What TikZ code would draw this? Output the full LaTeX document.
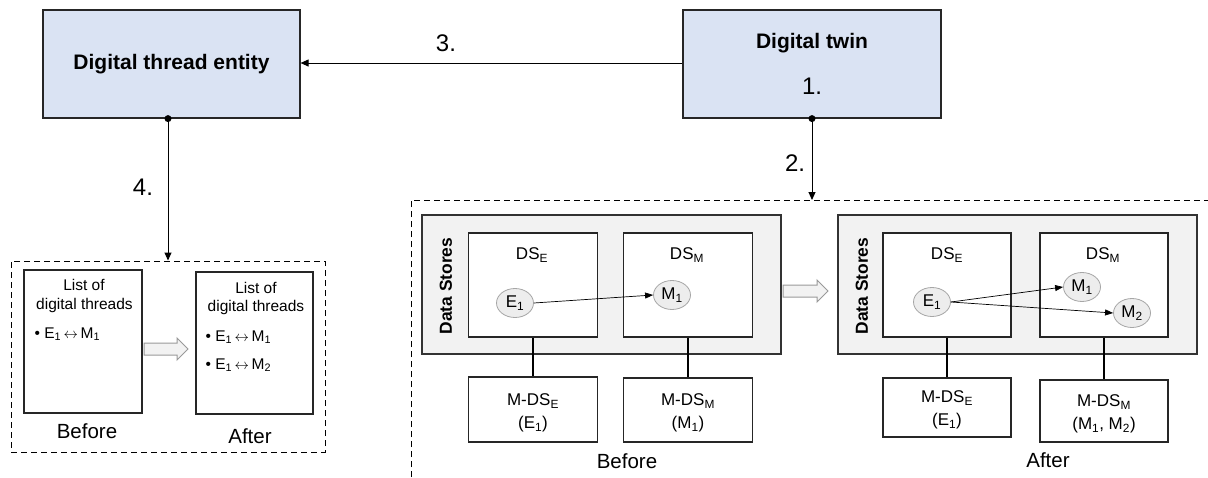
\documentclass[tikz,border=0pt]{standalone}
\usepackage{fontspec}
\setmainfont{Liberation Sans}
\usetikzlibrary{arrows.meta,shapes.geometric}
\definecolor{bluefill}{HTML}{DAE3F3}
\definecolor{grayfill}{HTML}{F2F2F2}
\definecolor{ellfill}{HTML}{EDEDED}
\definecolor{ellline}{HTML}{A6A6A6}
\begin{document}
\begin{tikzpicture}[x=1pt,y=-1pt,
  bluebox/.style={draw=black!85,line width=1.2pt,fill=bluefill,inner sep=0pt},
  plainbox/.style={draw=black!85,line width=1.2pt,fill=white,inner sep=0pt},
  graybox/.style={draw=black!80,line width=1.2pt,fill=grayfill,inner sep=0pt},
  dashbox/.style={draw=black,line width=1pt,dash pattern=on 6pt off 4pt,inner sep=0pt},
  ell/.style={ellipse,draw=ellline,fill=ellfill,line width=0.8pt,minimum width=37pt,minimum height=29pt,inner sep=0pt,font=\fontsize{17}{19}\selectfont},
  hollow/.style={draw=black!40,fill=grayfill,line width=1pt,line join=miter},
  conn/.style={line width=1pt,-{Triangle[length=8pt,width=7pt]}},
  thin/.style={line width=0.7pt,-{Triangle[length=8pt,width=6pt]}},
  link/.style={line width=1.6pt},
  dot/.style={circle,fill=black,inner sep=0pt,minimum size=7pt},
  titlef/.style={font=\fontsize{21}{24}\selectfont\bfseries},
  numf/.style={font=\fontsize{24}{28}\selectfont},
  listf/.style={font=\fontsize{15.5}{18}\selectfont},
  capf/.style={font=\fontsize{20.5}{24}\selectfont},
  dsf/.style={font=\fontsize{17}{20}\selectfont},
  mdsf/.style={align=center,font=\fontsize{17}{23}\selectfont},
  storef/.style={rotate=90,font=\fontsize{17.4}{20}\selectfont\bfseries}
]
\useasboundingbox (0,0) rectangle (1208,477);
\newcommand{\lra}{\,$\leftrightarrow$\,}

% top boxes
\node[bluebox,minimum width=257pt,minimum height=108pt] (dte) at (171.5,64) {};
\node[titlef] (dtetxt) at (171.5,64) {Digital thread entity};
\node[bluebox,minimum width=258pt,minimum height=108pt] (dt) at (812,64) {};
\node[titlef] (dttxt) at (812,43) {Digital twin};
\node[numf] (n1) at (812,86) {1.};

% arrow 3
\draw[conn] (dt.west |- 0,63) coordinate (a3s) -- (dte.east |- a3s);
\node[numf] (n3) at (446,43) {3.};

% left dashed area
\node[dashbox,minimum width=314pt,minimum height=191pt] (lbox) at (168,356.5) {};
\node[dot] (d4) at (lbox.north |- dte.south) {};
\draw[conn] (d4.center) -- (lbox.north);
\node[numf] (n4) at (143,187) {4.};

\node[plainbox,minimum width=118pt,minimum height=143pt] (lb) at (83,341.5) {};
\node[listf] (lb1) at (84,285) {List of};
\node[listf] (lb2) at (84.5,305) {digital threads};
\node[listf,anchor=west] (lb3) at (31,334) {• E\textsubscript{1}\lra M\textsubscript{1}};
\node[capf] (lbcap) at (87,431) {Before};

\draw[hollow] (144,343) -- (177,343) -- (177,338) -- (188,349) -- (177,360) -- (177,355) -- (144,355) -- cycle;

\node[plainbox,minimum width=117pt,minimum height=142pt] (la) at (254.5,343) {};
\node[listf] (la1) at (256,288) {List of};
\node[listf] (la2) at (256,307) {digital threads};
\node[listf,anchor=west] (la3) at (202,337) {• E\textsubscript{1}\lra M\textsubscript{1}};
\node[listf,anchor=west] (la4) at (202,365) {• E\textsubscript{1}\lra M\textsubscript{2}};
\node[capf] (lacap) at (250,436) {After};

% right dashed area (open to the edges)
\coordinate (rtl) at (411,200);
\draw[dashbox] (411,477) -- (rtl) -- (1208,200);
\node[dot] (d2) at (dt.south) {};
\coordinate (rtop) at (812,200);
\draw[conn] (d2.center) -- (rtop);
\node[numf] (n2) at (795,163) {2.};

% Before group
\node[graybox,minimum width=359pt,minimum height=139pt] (gb) at (601.5,284.5) {};
\node[storef] (sb) at (446,286) {Data Stores};
\node[plainbox,minimum width=129pt,minimum height=104pt] (dseb) at (533,285) {};
\node[plainbox,minimum width=129pt,minimum height=104pt] (dsmb) at (688,285) {};
\node[dsf] (dsebl) at (532,255) {DS\textsubscript{E}};
\node[dsf] (dsmbl) at (687,255) {DS\textsubscript{M}};
\node[ell] (e1b) at (515,303) {E\textsubscript{1}};
\node[ell] (m1b) at (672,295) {M\textsubscript{1}};
\draw[thin] (e1b.east) -- (m1b.west);
\node[plainbox,minimum width=129pt,minimum height=65pt] (mdseb) at (533,409.5) {};
\node[mdsf] at (533,413) {M-DS\textsubscript{E}\\(E\textsubscript{1})};
\node[plainbox,minimum width=129pt,minimum height=64pt] (mdsmb) at (688,410) {};
\node[mdsf] at (688,413) {M-DS\textsubscript{M}\\(M\textsubscript{1})};
\draw[link] (dseb.south) -- (mdseb.north);
\draw[link] (dsmb.south) -- (mdsmb.north);
\node[capf] (rbcap) at (627,461) {Before};

\draw[hollow] (783,285) -- (817,285) -- (817,280) -- (828,291) -- (817,302) -- (817,297) -- (783,297) -- cycle;

% After group
\node[graybox,minimum width=359pt,minimum height=139pt] (ga) at (1017.5,284.5) {};
\node[storef] (sa) at (862,286) {Data Stores};
\node[plainbox,minimum width=128pt,minimum height=104pt] (dsea) at (947,285) {};
\node[plainbox,minimum width=128pt,minimum height=104pt] (dsma) at (1104,285) {};
\node[dsf] (dseal) at (947,255) {DS\textsubscript{E}};
\node[dsf] (dsmal) at (1103,255) {DS\textsubscript{M}};
\node[ell] (e1a) at (932,302) {E\textsubscript{1}};
\node[ell] (m1a) at (1082,287) {M\textsubscript{1}};
\node[ell] (m2a) at (1132,313) {M\textsubscript{2}};
\draw[thin] (e1a.east) -- (m1a.west);
\draw[thin] (e1a.east) -- (m2a.west);
\node[plainbox,minimum width=128pt,minimum height=59pt] (mdsea) at (947,407.5) {};
\node[mdsf] at (947,410) {M-DS\textsubscript{E}\\(E\textsubscript{1})};
\node[plainbox,minimum width=128pt,minimum height=62pt] (mdsma) at (1104,411) {};
\node[mdsf] at (1104,414) {M-DS\textsubscript{M}\\(M\textsubscript{1}, M\textsubscript{2})};
\draw[link] (dsea.south) -- (mdsea.north);
\draw[link] (dsma.south) -- (mdsma.north);
\node[capf] (racap) at (1048,460) {After};
\end{tikzpicture}
\end{document}
